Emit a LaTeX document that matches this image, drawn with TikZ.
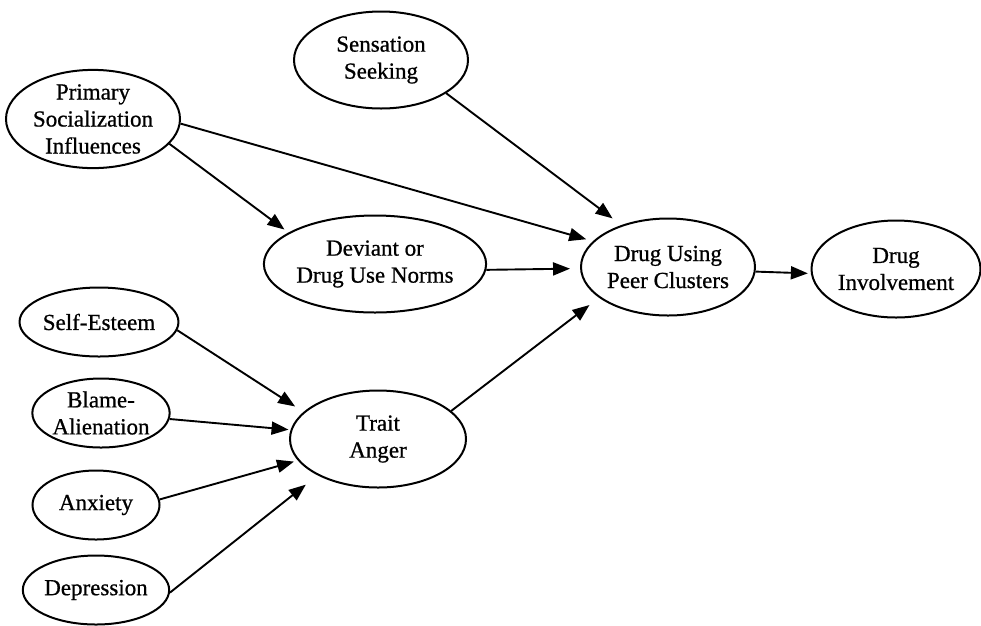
\documentclass[tikz,border=0pt]{standalone}
\usepackage{fontspec}
\setmainfont[FakeBold=0.8]{Liberation Serif}
\usetikzlibrary{shapes.geometric,arrows.meta}
\begin{document}
\begin{tikzpicture}[x=1pt,y=-1pt,
  var/.style={ellipse,draw,line width=2pt,inner sep=0pt,align=center,
    font=\fontsize{23}{27}\selectfont},
  big/.style={var,minimum width=174pt,minimum height=97pt},
  small/.style={var,minimum width=127pt,minimum height=69pt},
  link/.style={line width=1.9pt,-{Triangle[length=17pt,width=13pt]}}]
\useasboundingbox (0,0) rectangle (981,625);

% latent variables
\node[big] (sens)  at (381,60)  {Sensation\\Seeking};
\node[big] (prim)  at (93,119)  {Primary\\Socialization\\Influences};
\node[big,minimum width=178pt] (dev) at (375,264) {Deviant or\\Drug Use Norms};
\node[big] (dupc)  at (668,267) {Drug Using\\Peer Clusters};
\node[big,minimum width=169pt] (dinv) at (896,269) {Drug\\Involvement};
\node[big,minimum width=176pt] (trait) at (378,439) {Trait\\Anger};

% predictors of trait anger
\node[small] (self)  at (99,322)  {Self-Esteem};
\node[small] (blame) at (101,413) {Blame-\\Alienation};
\node[small] (anx)   at (96,505)  {Anxiety};
\node[small] (dep)   at (96,590)  {Depression};

% paths
\draw[link,shorten >=5pt]  (prim.-18)  -- (dev.160);
\draw[link,shorten >=7pt]  (prim.-3)   -- (dupc.161);
\draw[link,shorten >=11pt] (sens.-27)  -- (dupc.138);
\draw[link,shorten >=10pt] (dev.-3)    -- (dupc.181.5);
\draw[link,shorten >=12pt] (trait.21)  -- (dupc.204);
\draw[link,shorten >=3pt]  (dupc.-3)   -- (dinv.183);
\draw[link,shorten >=10pt] (self.-6)   -- (trait.160);
\draw[link,shorten >=2pt]  (blame.-5)  -- (trait.174);
\draw[link,shorten >=4pt]  (anx.5)     -- (trait.195);
\draw[link,shorten >=15pt] (dep.-2)    -- (trait.211);
\end{tikzpicture}
\end{document}
